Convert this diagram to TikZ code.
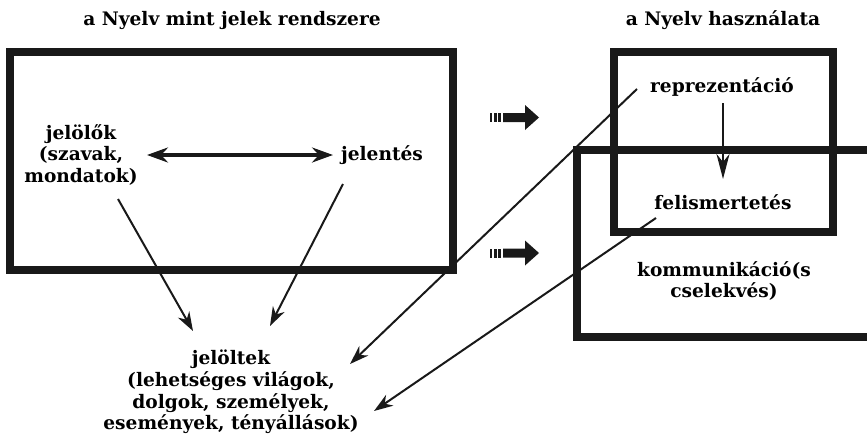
\documentclass[tikz,border=0pt]{standalone}
\usepackage{fontspec}
\setmainfont{DejaVu Serif}
\usetikzlibrary{arrows.meta}
\tikzset{
  lbl/.style={font=\bfseries\fontsize{18.6}{21.8}\selectfont, align=center, inner sep=1pt},
  frame/.style={line width=8pt, draw=black!90},
  thin/.style={line width=2pt, draw=black!90, -{Stealth[length=19pt,width=13pt,inset=6pt]}},
  thick/.style={line width=4.5pt, draw=black!90, {Stealth[length=21pt,width=15pt,inset=7pt]}-{Stealth[length=21pt,width=15pt,inset=7pt]}},
  bar/.style={fill=black!90},
}
\begin{document}
\begin{tikzpicture}[x=1pt,y=-1pt]
\useasboundingbox (0,0) rectangle (867,439);
\begin{scope}
\clip (0,0) rectangle (867,439);
% frames
\draw[frame] (9.5,52) rectangle (453,270);
\draw[frame] (614,52) rectangle (833,232);
\draw[frame] (577,150) rectangle (880,337);
\end{scope}
% titles
\node[lbl] (t1) at (232,20) {a Nyelv mint jelek rendszere};
\node[lbl] (t2) at (723,20) {a Nyelv használata};
% nodes
\node[lbl] (jelolok) at (81,155) {jelölők\\(szavak,\\mondatok)};
\node[lbl] (jelentes) at (382,155) {jelentés};
\node[lbl] (jeloltek) at (231,392) {jelöltek\\(lehetséges világok,\\dolgok, személyek,\\események, tényállások)};
\node[lbl] (repr) at (722,87) {reprezentáció};
\node[lbl] (feli) at (723,202) {felismertetés};
\node[lbl] (komm) at (724,281) {kommunikáció(s\\cselekvés)};
% coordinates for connector ends
\coordinate (a1s) at (118,199);
\coordinate (a1e) at (193,331);
\coordinate (a2s) at (343,184);
\coordinate (a2e) at (270,326);
\coordinate (a3s) at (637,89);
\coordinate (a3e) at (350,364);
\coordinate (a4s) at (656,218);
\coordinate (a4e) at (374,411);
\coordinate (dl) at (147,155);
\coordinate (dr) at (333,155);
\coordinate (vs) at (723,103);
\coordinate (ve) at (723,179);
% connectors
\draw[thick] (dl) -- (dr);
\draw[thin] (a1s) -- (a1e);
\draw[thin] (a2s) -- (a2e);
\draw[thin] (a3s) -- (a3e);
\draw[thin] (a4s) -- (a4e);
\draw[line width=2pt, draw=black!90, -{Stealth[length=25pt,width=13pt,inset=8pt]}] (vs) -- (ve);
% striped arrows
\foreach \yy/\nm in {117.5/sa, 253/sb}{
  \fill[bar] (490,\yy-4.5) rectangle (492.3,\yy+4.5);
  \fill[bar] (494.3,\yy-4.5) rectangle (496.7,\yy+4.5);
  \fill[bar] (498.3,\yy-4.5) rectangle (500.7,\yy+4.5);
  \fill[bar] (503,\yy-4.5) -- (525,\yy-4.5) -- (525,\yy-12.5) -- (539,\yy) -- (525,\yy+12.5) -- (525,\yy+4.5) -- (503,\yy+4.5) -- cycle;
}
\end{tikzpicture}
\end{document}
